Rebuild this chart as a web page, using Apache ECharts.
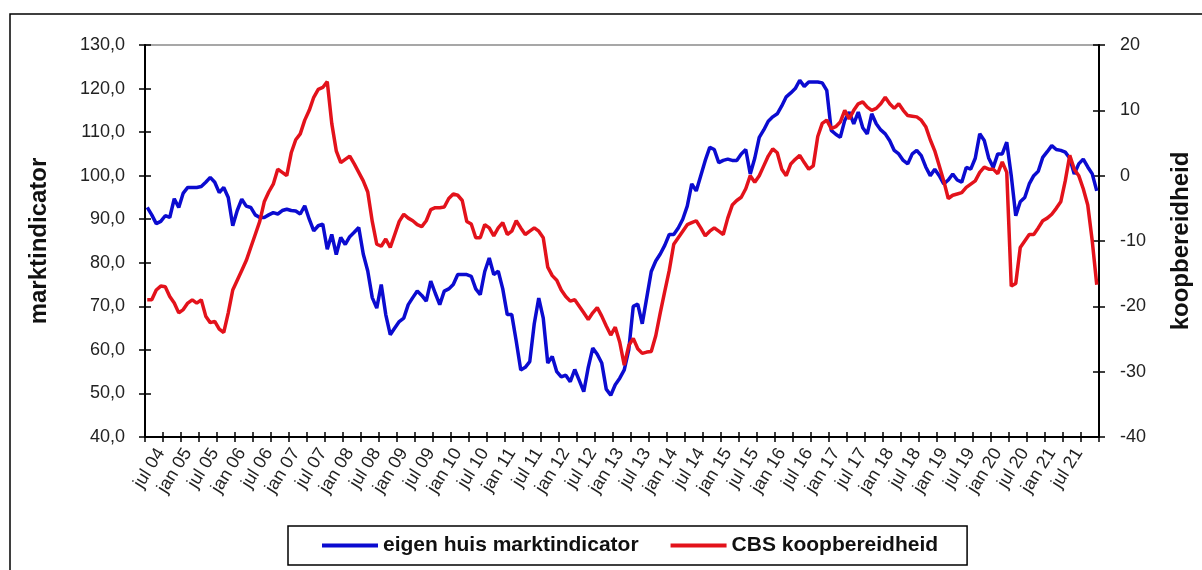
<!DOCTYPE html>
<html>
<head>
<meta charset="utf-8">
<script src="https://cdn.jsdelivr.net/npm/echarts@6/dist/echarts.min.js"></script>
<style>
  html, body { margin: 0; padding: 0; background: #fff; }
  #chart { width: 1202px; height: 570px; }
</style>
</head>
<body>
<div id="chart"></div>
<script>
// maanden apr 04 .. nov 21
const monthNames = ['jan', 'feb', 'mrt', 'apr', 'mei', 'jun', 'jul', 'aug', 'sep', 'okt', 'nov', 'dec'];
const startYear = 2004;
const startMonth = 3; // apr
const monthCount = 212;

const marktindicator = [
  92.7, 91, 89, 89.5, 90.8, 90.4, 94.7, 92.7, 96, 97.3, 97.3, 97.3,
  97.5, 98.5, 99.6, 98.5, 96.1, 97.3, 95, 88.5, 92, 94.6, 93, 92.7,
  91, 90.4, 90.4, 91, 91.5, 91.2, 92, 92.3, 92, 91.9, 91.2, 93.1,
  90, 87.3, 88.5, 88.9, 83.1, 86.5, 81.9, 85.8, 84.2, 86, 87, 88.1,
  82, 78.1, 72, 69.6, 75.0, 68.1, 63.5, 65, 66.5, 67.3, 70.4, 72,
  73.5, 72.5, 71.2, 75.8, 73, 70.4, 73.5, 74, 75.0, 77.3, 77.3, 77.3,
  76.9, 74, 72.7, 78, 81.1, 77.3, 78.1, 74, 68.1, 68.1, 62, 55.4,
  56, 57.3, 66, 71.9, 67.3, 57, 58.5, 55, 53.8, 54.2, 52.7, 55.5,
  53, 50.4, 56, 60.4, 59, 57, 51, 49.6, 52, 53.5, 55.4, 60,
  70, 70.5, 66, 72, 78, 80.4, 82, 84, 86.5, 86.5, 88, 90,
  93, 98.1, 96.5, 100, 103.5, 106.5, 106, 103, 103.5, 103.8, 103.5, 103.5,
  105, 106, 100.4, 104, 108.8, 110.5, 112.5, 113.5, 114.2, 116, 118.1, 119,
  120, 121.9, 120.5, 121.5, 121.5, 121.5, 121.3, 119.6, 110.4, 109.5, 108.8, 112.7,
  114.6, 111.9, 114.6, 111, 109.6, 114.2, 111.9, 110.5, 109.6, 108, 105.8, 105,
  103.5, 102.7, 105, 105.8, 104.6, 102, 100, 101.5, 100, 98.1, 99, 100.4,
  99, 98.5, 101.9, 101.5, 104, 109.6, 108.1, 104, 101.9, 105, 105, 107.7,
  100, 90.8, 94, 95, 98.1, 100, 101, 104.2, 105.5, 106.9, 106, 105.8,
  105.4, 104, 100.4, 102.7, 103.8, 102, 100.4, 96.5
];

const koopbereidheid = [
  -19, -19, -17.5, -16.9, -17, -18.5, -19.5, -21, -20.5, -19.5, -19, -19.5,
  -19, -21.5, -22.5, -22.3, -23.5, -24, -21, -17.5, -16, -14.5, -13, -11,
  -9, -7, -4, -2.5, -1.3, 1, 0.5, 0, 3.5, 5.5, 6.4, 8.5,
  10, 12, 13.2, 13.5, 14.4, 8, 3.8, 2, 2.5, 3, 1.8, 0.5,
  -0.8, -2.5, -7, -10.5, -10.8, -9.7, -11, -9, -7, -5.9, -6.5, -6.9,
  -7.5, -7.8, -6.9, -5.2, -4.9, -4.9, -4.8, -3.5, -2.8, -3, -3.8, -7,
  -7.4, -9.5, -9.5, -7.5, -8, -9.2, -8, -7.2, -9, -8.5, -6.9, -8,
  -9, -8.5, -8, -8.5, -9.5, -14, -15.3, -16, -17.5, -18.5, -19.2, -19,
  -20, -21, -22, -21, -20.2, -21.5, -23, -24.4, -23.2, -25.5, -29, -26,
  -24.9, -26.5, -27.2, -27, -26.9, -24.5, -21, -17.7, -14.5, -10.5, -9.5, -8.5,
  -7.5, -7.2, -6.9, -8, -9.2, -8.5, -8, -8.5, -9, -6.5, -4.5, -3.8,
  -3.3, -2, 0, -1, 0, 1.5, 3, 4.1, 3.5, 1, 0, 1.8,
  2.5, 3.1, 2, 1, 1.5, 6, 8, 8.5, 7.2, 7.5, 8.2, 10,
  8.7, 10, 11, 11.3, 10.5, 10, 10.3, 11, 12, 11, 10.3, 11,
  10, 9.2, 9.1, 9, 8.5, 7.5, 5.5, 3.8, 1.5, -0.8, -3.5, -3,
  -2.8, -2.6, -1.8, -1.3, -0.8, 0.5, 1.3, 1.0, 1.0, 0.3, 2.1, 0.5,
  -16.9, -16.5, -11, -10, -9, -9, -8, -6.9, -6.5, -5.9, -5, -4,
  -0.8, 3.1, 1, 0, -2, -4.5, -10, -16.7
];

const seriesNames = ['eigen huis marktindicator', 'CBS koopbereidheid'];
const seriesColors = ['#0b0bd0', '#e3121b'];

const months = [];
for (let i = 0; i < monthCount; i++) {
  const m = (startMonth + i) % 12;
  const y = startYear + Math.floor((startMonth + i) / 12);
  months.push(monthNames[m] + ' ' + String(y % 100).padStart(2, '0'));
}

const FONT = 'Arial, "Liberation Sans"';
const labelFont = { fontFamily: FONT, fontSize: 18, color: '#222' };
const nameFont = { fontFamily: FONT, fontSize: 24, fontWeight: 'bold', color: '#111' };
const tickStyle = { color: '#000', width: 1.5 };

// 'cross' tick marks: outer ticks on the main axes, inner ticks on twin axes
const leftY = { min: 40, max: 130, interval: 10 };
const rightY = { min: -40, max: 20, interval: 10 };

const chart = echarts.init(document.getElementById('chart'));
chart.setOption({
  animation: false,
  backgroundColor: '#fff',
  graphic: [{
    type: 'rect',
    shape: { x: 10, y: 14, width: 1300, height: 700 },
    style: { fill: null, stroke: '#000', lineWidth: 1.5 },
    silent: true
  }],
  grid: {
    left: 145, right: 103, top: 45, bottom: 133,
    show: true, borderColor: '#8a8a8a', borderWidth: 1.5
  },
  legend: {
    left: 288, top: 526,
    padding: [9, 29, 9, 34],
    itemGap: 32,
    itemWidth: 56, itemHeight: 4,
    icon: 'rect',
    borderColor: '#000', borderWidth: 1.5,
    textStyle: { fontFamily: FONT, fontSize: 21, fontWeight: 'bold', color: '#111' },
    data: seriesNames
  },
  xAxis: [{
    type: 'category',
    data: months,
    boundaryGap: true,
    axisLine: { onZero: false, lineStyle: { color: '#000', width: 2 } },
    axisTick: { show: true, interval: 3, length: 5, lineStyle: tickStyle },
    axisLabel: Object.assign({
      interval: (idx) => idx % 6 === 3,
      rotate: 58,
      margin: 13
    }, labelFont),
    splitLine: { show: false }
  }, {
    type: 'category',
    data: months,
    position: 'bottom',
    boundaryGap: true,
    axisLine: { show: false, onZero: false },
    axisTick: { show: true, interval: 3, length: 5, inside: true, lineStyle: tickStyle },
    axisLabel: { show: false },
    splitLine: { show: false }
  }],
  yAxis: [Object.assign({
    type: 'value',
    position: 'left',
    name: 'marktindicator',
    nameLocation: 'middle',
    nameGap: 94,
    nameRotate: 90,
    nameTextStyle: nameFont,
    axisLine: { show: true, onZero: false, lineStyle: { color: '#000', width: 2 } },
    axisTick: { show: true, length: 6, lineStyle: tickStyle },
    axisLabel: Object.assign({ margin: 20, formatter: (v) => v.toFixed(1).replace('.', ',') }, labelFont),
    splitLine: { show: false }
  }, leftY), Object.assign({
    type: 'value',
    position: 'right',
    name: 'koopbereidheid',
    nameLocation: 'middle',
    nameGap: 70,
    nameRotate: 90,
    nameTextStyle: nameFont,
    axisLine: { show: true, onZero: false, lineStyle: { color: '#000', width: 2 } },
    axisTick: { show: true, length: 6, lineStyle: tickStyle },
    axisLabel: Object.assign({ margin: 21 }, labelFont),
    splitLine: { show: false }
  }, rightY), Object.assign({
    type: 'value',
    position: 'left',
    axisLine: { show: false, onZero: false },
    axisTick: { show: true, inside: true, length: 6, lineStyle: tickStyle },
    axisLabel: { show: false },
    splitLine: { show: false }
  }, leftY), Object.assign({
    type: 'value',
    position: 'right',
    axisLine: { show: false, onZero: false },
    axisTick: { show: true, inside: true, length: 6, lineStyle: tickStyle },
    axisLabel: { show: false },
    splitLine: { show: false }
  }, rightY)],
  series: [{
    name: seriesNames[0],
    type: 'line',
    xAxisIndex: 0,
    yAxisIndex: 0,
    data: marktindicator,
    showSymbol: false,
    color: seriesColors[0],
    lineStyle: { width: 3.5, color: seriesColors[0] },
    z: 3
  }, {
    name: seriesNames[1],
    type: 'line',
    xAxisIndex: 0,
    yAxisIndex: 1,
    data: koopbereidheid,
    showSymbol: false,
    color: seriesColors[1],
    lineStyle: { width: 3.5, color: seriesColors[1] },
    z: 4
  }]
});
</script>
</body>
</html>
